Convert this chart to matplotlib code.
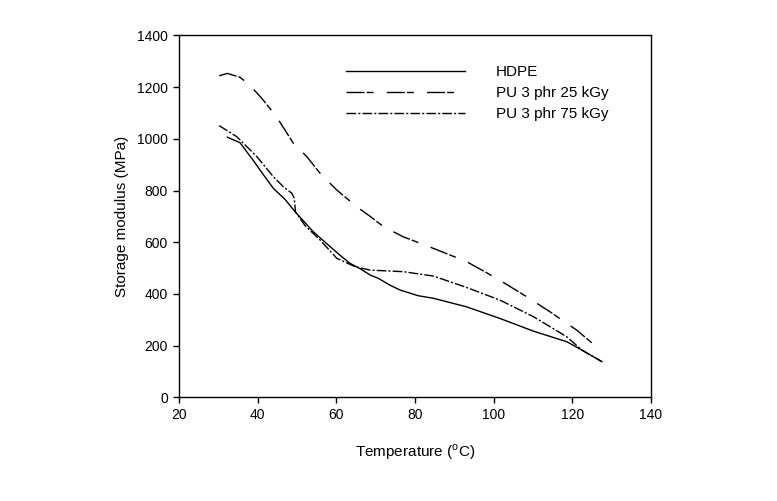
import matplotlib
matplotlib.use("Agg")
import matplotlib.pyplot as plt

plt.rcParams['font.family'] = ['Liberation Sans', 'DejaVu Sans']
plt.rcParams['mathtext.fontset'] = 'custom'
plt.rcParams['mathtext.rm'] = 'Liberation Sans'

# HDPE (solid)
hdpe_T = [32.3, 35.5, 38.8, 41.5, 44.0, 47.0, 49.5, 54.1, 58.4, 60.9, 63.5, 66.0, 68.6,
          70.7, 73.6, 76.2, 80.8, 84.7, 93.1, 101.6, 110.1, 118.6, 122.4, 127.5]
hdpe_E = [1006, 985, 918, 860, 808, 765, 718, 641, 583, 550, 518, 498, 473,
          460, 434, 415, 393, 383, 350, 305, 256, 215, 183, 138]

# PU 3 phr 25 kGy (dashed)
pu25_T = [30.2, 32.3, 35.5, 38.0, 41.4, 44.8, 49.1, 52.5, 55.9, 60.1, 65.2, 68.6, 72.0,
          77.0, 84.7, 93.1, 100.8, 108.4, 114.3, 121.1, 126.6]
pu25_E = [1244, 1253, 1238, 1208, 1150, 1085, 982, 931, 866, 802, 737, 700, 660,
          621, 576, 525, 460, 389, 331, 260, 190]

# PU 3 phr 75 kGy (dash-dot)
pu75_T = [30.2, 34.7, 39.8, 44.0, 46.5, 48.7, 49.3, 49.6, 52.0, 55.9, 60.1, 64.8, 68.6,
          77.0, 84.7, 93.1, 101.6, 110.1, 118.6, 122.4, 127.5]
pu75_E = [1051, 1008, 931, 853, 815, 789, 770, 718, 665, 608, 538, 505, 492,
          486, 469, 425, 376, 312, 234, 183, 138]

x_ticks = [20, 40, 60, 80, 100, 120, 140]
y_ticks = [0, 200, 400, 600, 800, 1000, 1200, 1400]
labels = ['HDPE', 'PU 3 phr 25 kGy', 'PU 3 phr 75 kGy']

fig = plt.figure(figsize=(7.77, 5.01), dpi=100)
ax = fig.add_axes([0.2304, 0.207, 0.6074, 0.7223])

ax.plot(hdpe_T, hdpe_E, color='black', lw=1.0, ls='-', label=labels[0])
ax.plot(pu25_T, pu25_E, color='black', lw=1.0, ls=(0, (13, 1.5, 5, 9.5)), label=labels[1])
ax.plot(pu75_T, pu75_E, color='black', lw=1.0, ls=(0, (7, 1.5, 1.5, 1.5)), label=labels[2])

ax.set_xlim(20, 140)
ax.set_ylim(0, 1400)
ax.set_xticks(x_ticks)
ax.set_yticks(y_ticks)
ax.tick_params(direction='out', length=4, width=1, labelsize=10, pad=4)
for s in ax.spines.values():
    s.set_linewidth(1.0)

ax.set_xlabel('Temperature ($^{\\mathrm{o}}$C)', fontsize=11, labelpad=14)
ax.set_ylabel('Storage modulus (MPa)', fontsize=11, labelpad=6)

leg = ax.legend(loc='upper left', bbox_to_anchor=(0.325, 0.955), frameon=False,
                handlelength=7.8, handletextpad=2.0, labelspacing=0.45, fontsize=11)

fig.savefig('out.png', dpi=100)
